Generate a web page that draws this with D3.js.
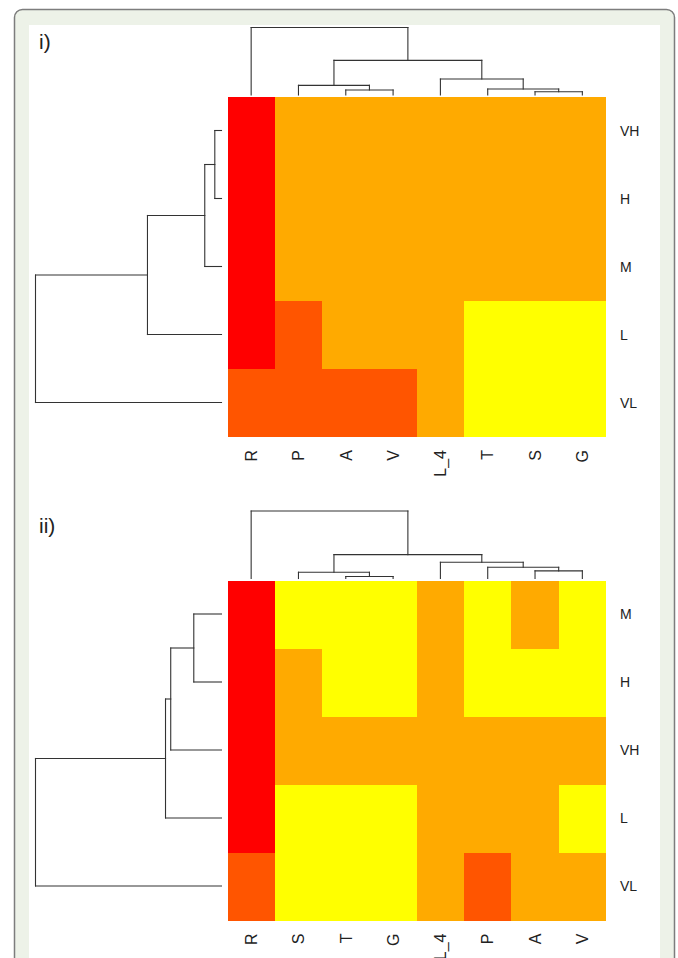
<!DOCTYPE html>
<html>
<head>
<meta charset="utf-8">
<script src="https://cdn.jsdelivr.net/npm/d3@7"></script>
<style>
  body { margin: 0; background: #fff; }
  text { font-family: "Liberation Sans", Arial, sans-serif; fill: #222; }
</style>
</head>
<body>
<svg></svg>
<script>
// heat colour levels, 1 = hottest
var levels = [1, 2, 3, 4],
    heatColors = ["#ff0000", "#ff5500", "#ffaa00", "#ffff00"];

// ---- panel i) ----
var colsI = ["R", "P", "A", "V", "L_4", "T", "S", "G"];
var rowsI = ["VH", "H", "M", "L", "VL"];
var valuesI = [
  [1, 3, 3, 3, 3, 3, 3, 3],
  [1, 3, 3, 3, 3, 3, 3, 3],
  [1, 3, 3, 3, 3, 3, 3, 3],
  [1, 2, 3, 3, 3, 4, 4, 4],
  [2, 2, 2, 2, 3, 4, 4, 4]
];
// merges: [left, right, height]; a number points to an earlier merge
var colMergeI = [
  ["S", "G", 0.049],
  ["A", "V", 0.074],
  ["T", 0, 0.089],
  ["P", 1, 0.143],
  ["L_4", 2, 0.236],
  [3, 4, 0.513],
  ["R", 5, 1.0]
];
var rowMergeI = [
  ["VH", "H", 0.036],
  [0, "M", 0.090],
  [1, "L", 0.398],
  [2, "VL", 1.0]
];

// ---- panel ii) ----
var colsII = ["R", "S", "T", "G", "L_4", "P", "A", "V"];
var rowsII = ["M", "H", "VH", "L", "VL"];
var valuesII = [
  [1, 4, 4, 4, 3, 4, 3, 4],
  [1, 3, 4, 4, 3, 4, 4, 4],
  [1, 3, 3, 3, 3, 3, 3, 3],
  [1, 4, 4, 4, 3, 3, 3, 4],
  [2, 4, 4, 4, 3, 2, 3, 3]
];
var colMergeII = [
  ["T", "G", 0.029],
  ["S", 0, 0.093],
  ["A", "V", 0.113],
  ["P", 2, 0.166],
  ["L_4", 3, 0.240],
  [1, 4, 0.353],
  ["R", 5, 1.0]
];
var rowMergeII = [
  ["M", "H", 0.149],
  [0, "VH", 0.273],
  [1, "L", 0.301],
  [2, "VL", 1.0]
];

var width = 678,
    height = 958;

var svg = d3.select("svg")
    .attr("width", width)
    .attr("height", height);

// page frame
svg.append("rect")
   .attr("x", 14.5).attr("y", 9.5)
   .attr("width", 660).attr("height", 1000)
   .attr("rx", 8)
   .attr("fill", "#edf2e8")
   .attr("stroke", "#7d7d7d")
   .attr("stroke-width", 1.5);
svg.append("rect")
   .attr("x", 29).attr("y", 25)
   .attr("width", 631).attr("height", 1000)
   .attr("fill", "#fff");

var color = d3.scaleOrdinal().domain(levels).range(heatColors);

function drawPanel(g, label, cols, rows, values, colMerge, rowMerge) {
  var x = d3.scaleBand().domain(cols).range([227.5, 606]),
      y = d3.scaleBand().domain(rows).range([96.5, 436.5]),
      hTop = d3.scaleLinear().domain([0, 1]).range([95, 27.5]),
      hLeft = d3.scaleLinear().domain([0, 1]).range([221.5, 35.5]);

  g.append("text")
   .attr("x", 39).attr("y", 49)
   .style("font-size", "21px")
   .text(label);

  // cells
  var cells = [];
  values.forEach(function(row, i) {
    row.forEach(function(v, j) {
      cells.push({row: rows[i], col: cols[j], v: v});
    });
  });
  g.selectAll("rect.cell")
   .data(cells)
   .enter().append("rect")
   .attr("class", "cell")
   .attr("x", function(d) { return Math.round(x(d.col)); })
   .attr("y", function(d) { return Math.round(y(d.row)); })
   .attr("width", function(d) { return Math.round(x(d.col) + x.bandwidth()) - Math.round(x(d.col)); })
   .attr("height", function(d) { return Math.round(y(d.row) + y.bandwidth()) - Math.round(y(d.row)); })
   .attr("shape-rendering", "crispEdges")
   .attr("fill", function(d) { return color(d.v); });

  // labels
  g.selectAll("text.row")
   .data(rows)
   .enter().append("text")
   .attr("class", "row")
   .attr("x", 620)
   .attr("y", function(d) { return y(d) + y.bandwidth() / 2; })
   .attr("dy", "0.36em")
   .style("font-size", "14px")
   .text(function(d) { return d; });

  g.selectAll("text.col")
   .data(cols)
   .enter().append("text")
   .attr("class", "col")
   .attr("transform", function(d) {
     return "translate(" + (x(d) + x.bandwidth() / 2) + ",450) rotate(-90)";
   })
   .attr("dy", "0.36em")
   .style("text-anchor", "end")
   .style("font-size", "16px")
   .text(function(d) { return d; });

  // dendrograms
  function links(merge, pos) {
    var nodes = [], segs = [];
    function get(k) {
      return typeof k === "number" ? nodes[k] : {p: pos(k), h: 0};
    }
    merge.forEach(function(m) {
      var a = get(m[0]), b = get(m[1]);
      segs.push([a.p, a.h, a.p, m[2]]);
      segs.push([b.p, b.h, b.p, m[2]]);
      segs.push([a.p, m[2], b.p, m[2]]);
      nodes.push({p: (a.p + b.p) / 2, h: m[2]});
    });
    return segs;
  }

  var topSegs = links(colMerge, function(k) { return x(k) + x.bandwidth() / 2; });
  g.selectAll("line.top")
   .data(topSegs)
   .enter().append("line")
   .attr("class", "top")
   .attr("x1", function(d) { return d[0]; })
   .attr("y1", function(d) { return hTop(d[1]); })
   .attr("x2", function(d) { return d[2]; })
   .attr("y2", function(d) { return hTop(d[3]); })
   .attr("stroke", "#333")
   .attr("stroke-width", 1.1)
   .attr("stroke-linecap", "square");

  var leftSegs = links(rowMerge, function(k) { return y(k) + y.bandwidth() / 2; });
  g.selectAll("line.left")
   .data(leftSegs)
   .enter().append("line")
   .attr("class", "left")
   .attr("x1", function(d) { return hLeft(d[1]); })
   .attr("y1", function(d) { return d[0]; })
   .attr("x2", function(d) { return hLeft(d[3]); })
   .attr("y2", function(d) { return d[2]; })
   .attr("stroke", "#333")
   .attr("stroke-width", 1.1)
   .attr("stroke-linecap", "square");
}

drawPanel(svg.append("g"), "i)", colsI, rowsI, valuesI, colMergeI, rowMergeI);
drawPanel(svg.append("g").attr("transform", "translate(0,483.5)"),
          "ii)", colsII, rowsII, valuesII, colMergeII, rowMergeII);
</script>
</body>
</html>
